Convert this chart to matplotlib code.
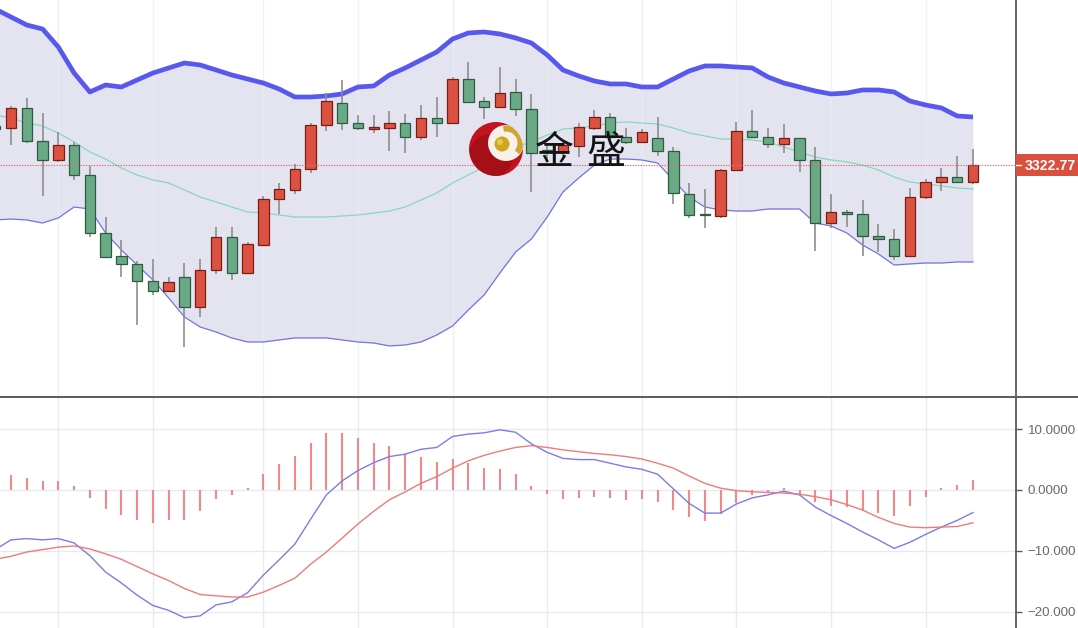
import numpy as np
import matplotlib.pyplot as plt
from matplotlib.patches import Circle, Wedge, Rectangle
from matplotlib.ticker import FuncFormatter

plt.rcParams['font.family'] = ['Liberation Sans', 'DejaVu Sans']

# candles, oldest first (red = up, green = down)
opens = [3327.65, 3327.40, 3329.90, 3325.77, 3323.40, 3325.27, 3321.52, 3314.27, 3311.40, 3310.40,
         3308.27, 3307.02, 3308.77, 3305.02, 3309.65, 3313.77, 3309.27, 3312.77, 3318.52, 3319.65,
         3322.27, 3327.77, 3330.52, 3328.02, 3327.33, 3327.40, 3328.02, 3326.27, 3328.65, 3328.02,
         3333.52, 3330.77, 3330.02, 3331.90, 3329.77, 3324.65, 3324.40, 3325.15, 3327.40, 3328.77,
         3326.27, 3325.65, 3326.15, 3324.52, 3319.15, 3316.65, 3316.40, 3322.15, 3327.02, 3326.27,
         3325.40, 3326.15, 3323.40, 3315.52, 3316.90, 3316.65, 3313.90, 3313.52, 3311.40, 3318.77,
         3320.65, 3321.27, 3320.65]
closes = [3327.27, 3329.90, 3325.77, 3323.40, 3325.27, 3321.52, 3314.27, 3311.27, 3310.40, 3308.27,
          3307.02, 3308.15, 3305.02, 3309.65, 3313.77, 3309.27, 3312.90, 3318.52, 3319.77, 3322.27,
          3327.77, 3330.77, 3328.02, 3327.40, 3327.46, 3328.02, 3326.27, 3328.65, 3328.02, 3333.52,
          3330.65, 3330.02, 3331.77, 3329.77, 3324.27, 3324.40, 3325.27, 3327.52, 3328.77, 3326.27,
          3325.65, 3326.90, 3324.52, 3319.27, 3316.52, 3316.52, 3322.15, 3327.02, 3326.27, 3325.40,
          3326.15, 3323.40, 3315.52, 3316.90, 3316.65, 3313.90, 3313.52, 3311.40, 3318.77, 3320.65,
          3321.27, 3320.65, 3322.77]
highs = [3328.27, 3330.15, 3331.15, 3329.27, 3326.90, 3325.65, 3322.65, 3316.27, 3313.40, 3310.77,
         3311.02, 3308.77, 3310.52, 3311.02, 3315.02, 3315.02, 3313.15, 3318.90, 3320.52, 3322.90,
         3328.02, 3331.77, 3333.40, 3329.02, 3329.02, 3329.52, 3329.15, 3330.27, 3331.27, 3333.77,
         3335.65, 3331.27, 3335.02, 3333.52, 3331.65, 3325.15, 3325.65, 3328.02, 3329.65, 3329.27,
         3327.40, 3327.27, 3328.77, 3325.02, 3320.52, 3319.77, 3322.27, 3328.15, 3329.65, 3327.40,
         3327.90, 3326.15, 3325.02, 3319.15, 3317.15, 3318.40, 3315.40, 3314.77, 3319.90, 3321.02,
         3322.40, 3323.90, 3324.77]
lows = [3326.90, 3325.27, 3325.52, 3318.90, 3323.15, 3320.90, 3313.77, 3311.15, 3308.77, 3302.77,
        3306.52, 3307.02, 3300.02, 3303.77, 3309.15, 3308.40, 3309.27, 3312.77, 3316.65, 3319.15,
        3321.77, 3327.02, 3327.15, 3327.15, 3326.77, 3324.52, 3324.27, 3325.90, 3326.27, 3328.02,
        3330.65, 3328.52, 3330.02, 3328.90, 3319.40, 3323.65, 3323.90, 3323.77, 3327.15, 3325.90,
        3325.40, 3325.52, 3323.90, 3317.90, 3316.15, 3314.90, 3316.15, 3322.15, 3326.27, 3324.90,
        3324.27, 3321.90, 3312.02, 3314.90, 3315.02, 3311.40, 3311.90, 3310.90, 3311.40, 3318.52,
        3319.52, 3320.65, 3320.40]

# bollinger bands
boll_up = [3342.27, 3341.27, 3340.27, 3339.77, 3337.52, 3334.27, 3331.90, 3332.77, 3332.52, 3333.40,
           3334.27, 3334.90, 3335.52, 3335.27, 3334.65, 3334.02, 3333.52, 3333.02, 3332.27, 3331.27,
           3331.27, 3331.40, 3331.65, 3332.52, 3332.65, 3334.02, 3334.90, 3335.90, 3336.90, 3338.52,
           3339.27, 3339.40, 3339.15, 3338.65, 3338.02, 3336.52, 3334.65, 3333.90, 3333.27, 3332.90,
           3332.90, 3332.52, 3332.52, 3333.52, 3334.52, 3335.15, 3335.15, 3335.02, 3334.90, 3333.77,
           3333.02, 3332.52, 3332.02, 3331.65, 3331.77, 3332.15, 3332.15, 3331.90, 3330.77, 3330.27,
           3329.90, 3328.90, 3328.77]
boll_mid = [3329.02, 3328.65, 3328.02, 3327.65, 3326.77, 3325.65, 3324.40, 3323.52, 3322.40, 3321.52,
            3320.90, 3320.52, 3319.65, 3318.77, 3318.15, 3317.52, 3316.90, 3316.77, 3316.52, 3316.27,
            3316.27, 3316.27, 3316.40, 3316.52, 3316.77, 3317.02, 3317.52, 3318.40, 3319.27, 3320.52,
            3321.52, 3322.52, 3323.77, 3325.02, 3325.65, 3326.52, 3327.27, 3327.40, 3327.65, 3328.02,
            3328.15, 3328.02, 3327.90, 3327.40, 3326.77, 3326.40, 3326.02, 3326.02, 3325.90, 3325.65,
            3325.02, 3324.40, 3323.77, 3323.40, 3323.15, 3322.77, 3322.15, 3321.27, 3320.65, 3320.40,
            3320.15, 3319.90, 3319.77]
boll_dn = [3315.90, 3316.02, 3315.90, 3315.52, 3316.15, 3317.52, 3317.27, 3314.27, 3312.15, 3310.27,
           3308.40, 3306.15, 3303.77, 3302.52, 3301.90, 3301.15, 3300.65, 3300.65, 3300.90, 3301.15,
           3301.15, 3301.15, 3300.90, 3300.65, 3300.52, 3300.15, 3300.27, 3300.65, 3301.52, 3302.65,
           3304.65, 3306.52, 3309.27, 3311.90, 3313.52, 3316.27, 3319.40, 3321.15, 3322.77, 3323.52,
           3323.52, 3323.40, 3323.02, 3320.90, 3318.77, 3317.52, 3317.15, 3317.02, 3317.02, 3317.27,
           3317.27, 3317.27, 3315.52, 3315.15, 3314.27, 3312.77, 3311.65, 3310.27, 3310.40, 3310.52,
           3310.52, 3310.65, 3310.65]

# MACD
dif = [-9.8, -8.2, -8.0, -8.2, -8.0, -8.7, -10.8, -13.5, -15.3, -17.3,
       -19.0, -19.8, -21.0, -20.7, -18.9, -18.4, -16.9, -14.0, -11.5, -8.9,
       -4.8, -0.8, 1.5, 3.2, 4.5, 5.5, 5.9, 6.7, 7.0, 8.8,
       9.2, 9.4, 9.9, 9.5, 7.6, 6.2, 5.2, 5.0, 5.0, 4.4,
       3.8, 3.4, 2.6, 0.2, -2.2, -3.8, -3.8, -2.3, -1.3, -0.8,
       -0.2, -0.8, -2.8, -4.2, -5.5, -6.9, -8.2, -9.6, -8.6, -7.3,
       -6.1, -5.0, -3.7]
dea = [-11.4, -10.9, -10.2, -9.8, -9.4, -9.2, -9.7, -10.5, -11.4, -12.6,
       -13.8, -14.9, -16.2, -17.2, -17.4, -17.6, -17.6, -16.8, -15.7, -14.5,
       -12.2, -10.2, -7.9, -5.6, -3.5, -1.6, -0.3, 1.1, 2.2, 3.6,
       4.8, 5.7, 6.4, 7.0, 7.3, 7.0, 6.6, 6.3, 6.0, 5.8,
       5.5, 5.1, 4.4, 3.6, 2.3, 1.1, 0.3, -0.1, -0.3, -0.4,
       -0.5, -0.7, -1.1, -1.6, -2.4, -3.3, -4.5, -5.5, -6.1, -6.2,
       -6.1, -6.0, -5.4]
macd_hist = [1.6, 2.5, 2.0, 1.5, 1.5, 0.7, -1.3, -3.1, -4.1, -4.9,
             -5.4, -4.9, -4.9, -3.5, -1.5, -0.9, 0.4, 2.7, 4.3, 5.6,
             7.7, 9.3, 9.3, 8.6, 7.8, 7.3, 6.0, 5.5, 4.6, 5.1,
             4.5, 3.7, 3.4, 2.6, 0.6, -0.6, -1.5, -1.3, -1.1, -1.3,
             -1.7, -1.5, -1.9, -3.3, -4.5, -5.1, -4.0, -2.2, -0.8, -0.3,
             0.3, -0.8, -1.9, -2.7, -2.8, -3.5, -3.8, -4.3, -2.7, -1.1,
             0.3, 0.8, 1.7]
macd_ticks = [10, 0, -10, -20]
grid_bars = [4, 10, 17, 23, 29, 35, 41, 47, 53, 59]
last_price = closes[-1]

W, H = 1078, 628
split = 397      # pixel row of the panel divider
axis_x = 1016    # pixel column of the price axis

fig = plt.figure(figsize=(W / 100, H / 100), dpi=100)
ax = fig.add_axes([0, 1 - split / H, axis_x / W, split / H])
ax2 = fig.add_axes([0, 0, axis_x / W, (H - split) / H])

x = np.arange(len(opens))
o = np.array(opens)
c = np.array(closes)
xlim = ((0 - 11) / 15.77 + 1, (axis_x - 11) / 15.77 + 1)

# ---- price panel
ax.fill_between(x, boll_up, boll_dn, color='#e4e4f1', lw=0, zorder=1)
ax.plot(x, boll_up, color='#5858ee', lw=3.4, solid_capstyle='butt', zorder=2)
ax.plot(x, boll_dn, color='#7474e0', lw=0.9, zorder=2)
ax.plot(x, boll_mid, color='#86d8ba', lw=0.9, zorder=2)

up = c >= o
body_col = np.where(up, '#dc5242', '#6aa985')
edge_col = np.where(up, '#7c1d12', '#2f5a40')
ax.vlines(x, lows, highs, color='#8e8e8e', lw=1.2, zorder=3)
ax.bar(x, np.maximum(np.abs(c - o), 0.12), bottom=np.minimum(o, c), width=0.66,
       color=body_col, edgecolor=edge_col, lw=0.9, zorder=4)

ax.axhline(last_price, color='#e06a6a', lw=0.8, ls=(0, (1.2, 1.2)), zorder=5)

ax.set_xlim(*xlim)
ax.set_ylim(3343.395 - split / 8, 3343.395)
ax.set_xticks(grid_bars)
ax.set_yticks([])
ax.tick_params(axis='x', length=0, labelbottom=False)
ax.set_axisbelow('line')
ax.grid(axis='x', color='#e9eff5', lw=1, alpha=0.8)
for s in ['top', 'left', 'bottom']:
    ax.spines[s].set_visible(False)
ax.spines['right'].set_color('#5a5a5a')
ax.spines['right'].set_linewidth(1.3)

# ---- MACD panel
ax2.vlines(x, 0, macd_hist, color='#f08a8a', lw=1.5, zorder=3)
ax2.plot(x, dif, color='#7c7ce8', lw=1.0, zorder=4)
ax2.plot(x, dea, color='#ef7a7a', lw=1.0, zorder=4)
ax2.set_xlim(*xlim)
ax2.set_ylim(-138 / 6.08, 93 / 6.08)
ax2.set_xticks(grid_bars)
ax2.set_yticks(macd_ticks)
ax2.yaxis.tick_right()
# the axis column only has room for seven characters
ax2.yaxis.set_major_formatter(FuncFormatter(lambda v, p: f"{v:.4f}".replace('-', '\u2212')[:7]))
ax2.tick_params(axis='x', length=0, labelbottom=False)
ax2.tick_params(axis='y', direction='out', length=4.3, width=1, color='#5a5a5a',
                labelcolor='#6a6a6a', labelsize=9.6, pad=4)
ax2.grid(color='#e4ebf1', lw=1, zorder=0)
ax2.set_axisbelow(True)
for s in ['top', 'left', 'bottom']:
    ax2.spines[s].set_visible(False)
ax2.spines['right'].set_color('#5a5a5a')
ax2.spines['right'].set_linewidth(1.3)

# ---- overlay in pixel coordinates: divider, price tag, watermark
ov = fig.add_axes([0, 0, 1, 1], zorder=10)
ov.set_xlim(0, W)
ov.set_ylim(H, 0)
ov.axis('off')
ov.plot([0, W], [split, split], color='#5a5a5a', lw=1.4)

ov.add_patch(Rectangle((axis_x, 154), W - axis_x + 5, 22, color='#d9503f', lw=0))
ov.plot([axis_x, axis_x + 5], [165, 165], color='white', lw=1)
ov.text(axis_x + 9, 165.5, f"{last_price:.2f}", color='white', fontsize=10.2,
        fontweight='bold', ha='left', va='center')

cx, cy = 496, 149
disk = Circle((cx, cy), 27, color='#c0141e', lw=0)
ov.add_patch(disk)
shade = Circle((cx - 5, cy + 7), 22, color='#7e0810', lw=0, alpha=0.4)
ov.add_patch(shade)
shade.set_clip_path(disk)
hole = Circle((cx + 10, cy - 6), 18, color='#f7f1ec', lw=0)
ov.add_patch(hole)
hole.set_clip_path(disk)
arc = Wedge((cx + 10, cy - 6), 17.5, -100, 40, width=6, color='#d3a530', lw=0)
ov.add_patch(arc)
arc.set_clip_path(disk)
ov.add_patch(Circle((cx + 6, cy - 5), 7.5, color='#cfa61e', lw=0))
ov.add_patch(Circle((cx + 4, cy - 7), 3, color='#f0d868', lw=0, alpha=0.7))

cjk = ['Noto Sans CJK SC', 'DejaVu Sans']
ov.text(554.5, 153, '金', fontsize=28, family=cjk, color='#141414', ha='center', va='center')
ov.text(605.5, 153, '盛', fontsize=28, family=cjk, color='#141414', ha='center', va='center')

fig.savefig('out.png', dpi=100)
